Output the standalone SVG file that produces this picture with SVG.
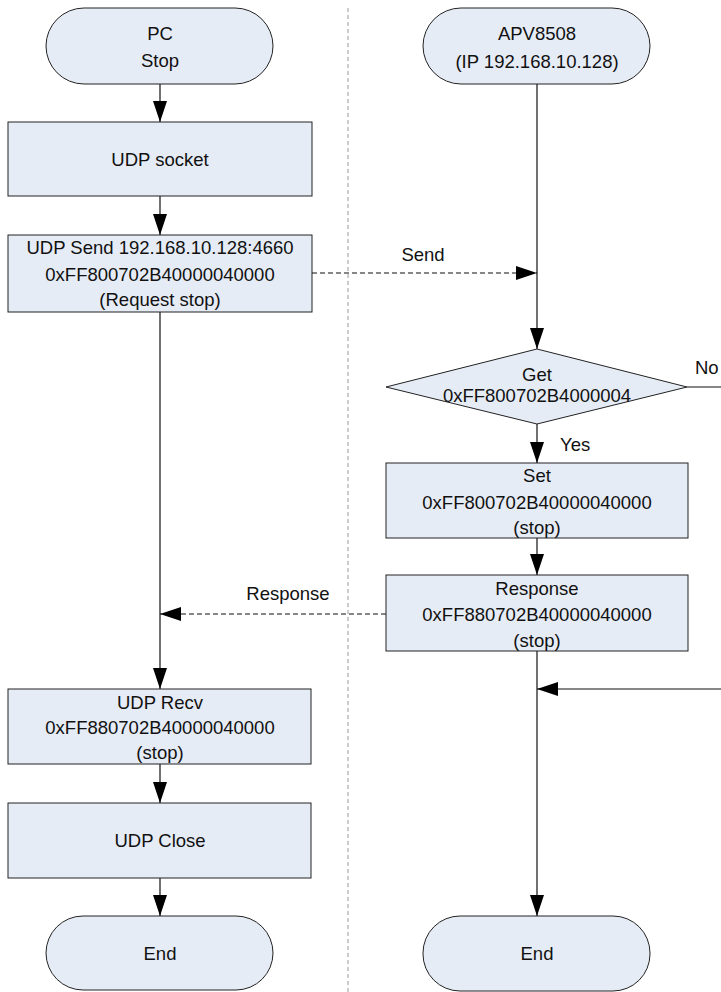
<svg xmlns="http://www.w3.org/2000/svg" width="721" height="992" viewBox="0 0 721 992">
<style>
.n{fill:#E6ECF6;stroke:#222;stroke-width:1}
.t{font-family:"Liberation Sans",Arial,sans-serif;font-size:18.5px;fill:#111;text-anchor:middle}
.l{font-family:"Liberation Sans",Arial,sans-serif;font-size:18.5px;fill:#111}
.c{stroke:#111;stroke-width:1.2;fill:none}
.d{stroke:#111;stroke-width:1.2;fill:none;stroke-dasharray:5,3}
</style>
<defs>
<marker id="ah" viewBox="0 0 21 14" refX="21" refY="7" markerWidth="21" markerHeight="14" markerUnits="userSpaceOnUse" orient="auto">
<path d="M0,0 L21,7 L0,14 z" fill="#000"/>
</marker>
</defs>
<rect width="721" height="992" fill="#fff"/>
<line x1="348" y1="8" x2="348" y2="992" stroke="#999" stroke-width="1" stroke-dasharray="4,3"/>
<g id="connectors">
<line class="c" x1="160" y1="84" x2="160" y2="122" marker-end="url(#ah)"/>
<line class="c" x1="160" y1="196" x2="160" y2="235" marker-end="url(#ah)"/>
<line class="c" x1="160" y1="312" x2="160" y2="689" marker-end="url(#ah)"/>
<line class="c" x1="160" y1="764" x2="160" y2="803" marker-end="url(#ah)"/>
<line class="c" x1="160" y1="878" x2="160" y2="916" marker-end="url(#ah)"/>
<line class="d" x1="312" y1="273" x2="537" y2="273" marker-end="url(#ah)"/>
<line class="c" x1="537" y1="84" x2="537" y2="349" marker-end="url(#ah)"/>
<line class="c" x1="537" y1="424" x2="537" y2="463" marker-end="url(#ah)"/>
<line class="c" x1="537" y1="538" x2="537" y2="575" marker-end="url(#ah)"/>
<line class="c" x1="537" y1="651" x2="537" y2="916" marker-end="url(#ah)"/>
<line class="d" x1="386" y1="614" x2="160" y2="614" marker-end="url(#ah)"/>
<line class="c" x1="687" y1="387" x2="721" y2="387"/>
<line class="c" x1="721" y1="689" x2="537" y2="689" marker-end="url(#ah)"/>
<text class="t" x="423" y="261">Send</text>
<text class="t" x="288" y="600">Response</text>
<text class="l" x="695" y="374">No</text>
<text class="l" x="560" y="451">Yes</text>
</g>
<g id="pc_stop">
<rect class="n" x="46" y="8" width="227" height="76" rx="38" ry="38"/>
<text class="t" x="160" y="40">PC</text>
<text class="t" x="160" y="67">Stop</text>
</g>
<g id="udp_socket">
<rect class="n" x="8" y="122" width="304" height="74"/>
<text class="t" x="160" y="166">UDP socket</text>
</g>
<g id="udp_send">
<rect class="n" x="8" y="235" width="304" height="77"/>
<text class="t" x="160" y="254">UDP Send 192.168.10.128:4660</text>
<text class="t" x="160" y="281">0xFF800702B40000040000</text>
<text class="t" x="160" y="306">(Request stop)</text>
</g>
<g id="udp_recv">
<rect class="n" x="8" y="689" width="303" height="75"/>
<text class="t" x="160" y="709">UDP Recv</text>
<text class="t" x="160" y="734">0xFF880702B40000040000</text>
<text class="t" x="160" y="759">(stop)</text>
</g>
<g id="udp_close">
<rect class="n" x="8" y="803" width="303" height="75"/>
<text class="t" x="160" y="847">UDP Close</text>
</g>
<g id="pc_end">
<rect class="n" x="46" y="916" width="227" height="74" rx="37" ry="37"/>
<text class="t" x="160" y="960">End</text>
</g>
<g id="apv">
<rect class="n" x="423" y="8" width="227" height="76" rx="38" ry="38"/>
<text class="t" x="537" y="40">APV8508</text>
<text class="t" x="537" y="68">(IP 192.168.10.128)</text>
</g>
<g id="get">
<polygon class="n" points="537,349 687,387 537,424 386,387"/>
<text class="t" x="537" y="381">Get</text>
<text class="t" x="537" y="402">0xFF800702B4000004</text>
</g>
<g id="set">
<rect class="n" x="386" y="463" width="302" height="75"/>
<text class="t" x="537" y="482">Set</text>
<text class="t" x="537" y="509">0xFF800702B40000040000</text>
<text class="t" x="537" y="534">(stop)</text>
</g>
<g id="response">
<rect class="n" x="386" y="575" width="302" height="76"/>
<text class="t" x="537" y="595">Response</text>
<text class="t" x="537" y="621">0xFF880702B40000040000</text>
<text class="t" x="537" y="647">(stop)</text>
</g>
<g id="apv_end">
<rect class="n" x="423" y="916" width="227" height="75" rx="37" ry="37"/>
<text class="t" x="537" y="960">End</text>
</g>
</svg>
